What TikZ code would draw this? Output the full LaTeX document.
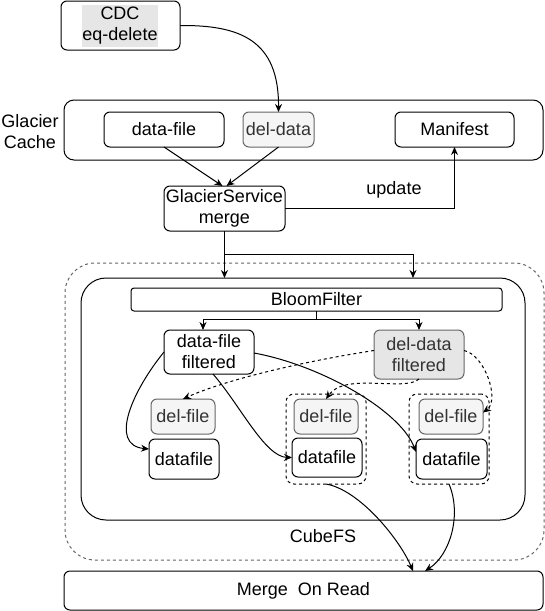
\documentclass[tikz,border=0pt]{standalone}
\usepackage{fontspec}
\setmainfont{Liberation Sans}
\usetikzlibrary{arrows.meta,calc}
\definecolor{delfill}{HTML}{F5F5F5}
\definecolor{delline}{HTML}{666666}
\definecolor{deltext}{HTML}{333333}
\definecolor{hlfill}{HTML}{E6E6E6}
\newcommand\dfont{\fontsize{18}{21}\selectfont}
\tikzset{
  base/.style={line width=1pt, inner sep=0pt, outer sep=0pt, align=center, font=\dfont},
  box/.style={base, draw, rounded corners=6pt},
  delbox/.style={box, fill=delfill, draw=delline, text=deltext},
  grp/.style={draw, dash pattern=on 3pt off 3pt, line width=1pt, rounded corners=8pt, inner sep=0pt, outer sep=0pt},
  arr/.style={line width=1pt, -{Stealth[length=8pt,width=7pt]}},
  darr/.style={arr, dash pattern=on 3pt off 3pt},
}
\begin{document}
\begin{tikzpicture}[x=1pt,y=-1pt]
\useasboundingbox (0,0) rectangle (545,611);

% top part
\node[box, minimum width=119pt, minimum height=49pt] (cdc) at (120.5,25.5) {};
\node[base, fill=hlfill, minimum width=76pt, minimum height=42pt] (cdctxt) at (120,26) {CDC\\eq-delete};
\node[box, rounded corners=10pt, minimum width=479pt, minimum height=60pt] (glacier) at (303.5,130) {};
\node[base] (glabel) at (30,132) {Glacier\\Cache};
\node[box, minimum width=120pt, minimum height=35pt] (datafile) at (164,129.5) {data-file};
\node[delbox, minimum width=71pt, minimum height=35pt] (deldata) at (278.5,129.5) {del-data};
\node[box, minimum width=119pt, minimum height=35pt] (manifest) at (454.5,129.5) {Manifest};
\node[box, minimum width=121pt, minimum height=45pt] (gs) at (224.5,208.5) {GlacierService\\merge};
\node[base] (update) at (394,190) {update};

% CubeFS
\node[base, draw=delline, dash pattern=on 3pt off 3pt, rounded corners=30pt, minimum width=479pt, minimum height=297pt] (cubeouter) at (304.5,411.5) {};
\node[box, rounded corners=25pt, minimum width=444pt, minimum height=242pt] (cubeinner) at (303,399) {};
\node[base] (cubelabel) at (323,536) {CubeFS};
\node[box, rounded corners=3pt, minimum width=371pt, minimum height=23pt] (bloom) at (316.5,299.5) {BloomFilter};
\node[box, minimum width=90pt, minimum height=44pt] (dff) at (209,352) {data-file\\filtered};
\node[delbox, fill=hlfill, minimum width=90pt, minimum height=49pt] (ddf) at (419,354.5) {del-data\\filtered};

\node[grp, minimum width=80pt, minimum height=90pt] (grp2) at (326,439) {};
\node[grp, minimum width=80pt, minimum height=90pt] (grp3) at (449,439) {};

\node[delbox, minimum width=64pt, minimum height=35pt] (delf1) at (183,416.5) {del-file};
\node[delbox, minimum width=64pt, minimum height=35pt] (delf2) at (326,416.5) {del-file};
\node[delbox, minimum width=64pt, minimum height=35pt] (delf3) at (451,416.5) {del-file};
\node[box, minimum width=70pt, minimum height=40pt] (df1) at (184,459) {datafile};
\node[box, minimum width=70pt, minimum height=39pt] (df2) at (327,457.5) {datafile};
\node[box, minimum width=71pt, minimum height=40pt] (df3) at (451.5,459) {datafile};

\node[box, minimum width=479pt, minimum height=39pt] (mor) at (303.5,590.5) {Merge\ \ On Read};

% connectors top
\draw[arr] (cdc.east) .. controls (240,25) and (279,40) .. (deldata.north);
\draw[arr] (datafile.south) -- ($(gs.north)+(-2,0)$);
\draw[arr] (deldata.south) -- ($(gs.north)+(2,0)$);
\draw[arr] (gs.east) -| (manifest.south);
\coordinate (tap) at (413,278);
\draw[arr] (gs.south) -- (gs.south |- cubeinner.north);
\draw[arr] (gs.south) -- ++(0,23) -| (tap);

% bloom split
\draw[arr] (bloom.south) -- ++(0,8) -| ($(dff.north)+(-6,0)$);
\draw[arr] (bloom.south) -- ++(0,8) -| (ddf.north);

% data-file filtered
\draw[arr] (dff.west) .. controls (133,390) and (108,445) .. ($(df1.west)+(0,-10)$);
\draw[arr] ($(dff.south)+(4,0)$) .. controls (240,405) and (265,457) .. (df2.west);
\draw[arr] ($(dff.east)+(0,1)$) .. controls (320,365) and (400,410) .. ($(df3.west)+(0,-7)$);

% del-data filtered
\draw[darr] ($(ddf.west)+(0,-4)$) .. controls (300,362) and (225,380) .. (delf1.north);
\draw[darr] (ddf.south) .. controls (405,392) and (345,372) .. (delf2.north);
\draw[darr] ($(ddf.east)+(0,-4)$) .. controls (485,355) and (500,400) .. ($(delf3.east)+(0,-4)$);

% to merge on read
\draw[arr] (grp2.south) .. controls (360,490) and (400,540) .. ($(mor.north)+(109.5,0)$);
\draw[arr] (grp3.south) .. controls (462,515) and (450,555) .. ($(mor.north)+(121.5,0)$);
\end{tikzpicture}
\end{document}
